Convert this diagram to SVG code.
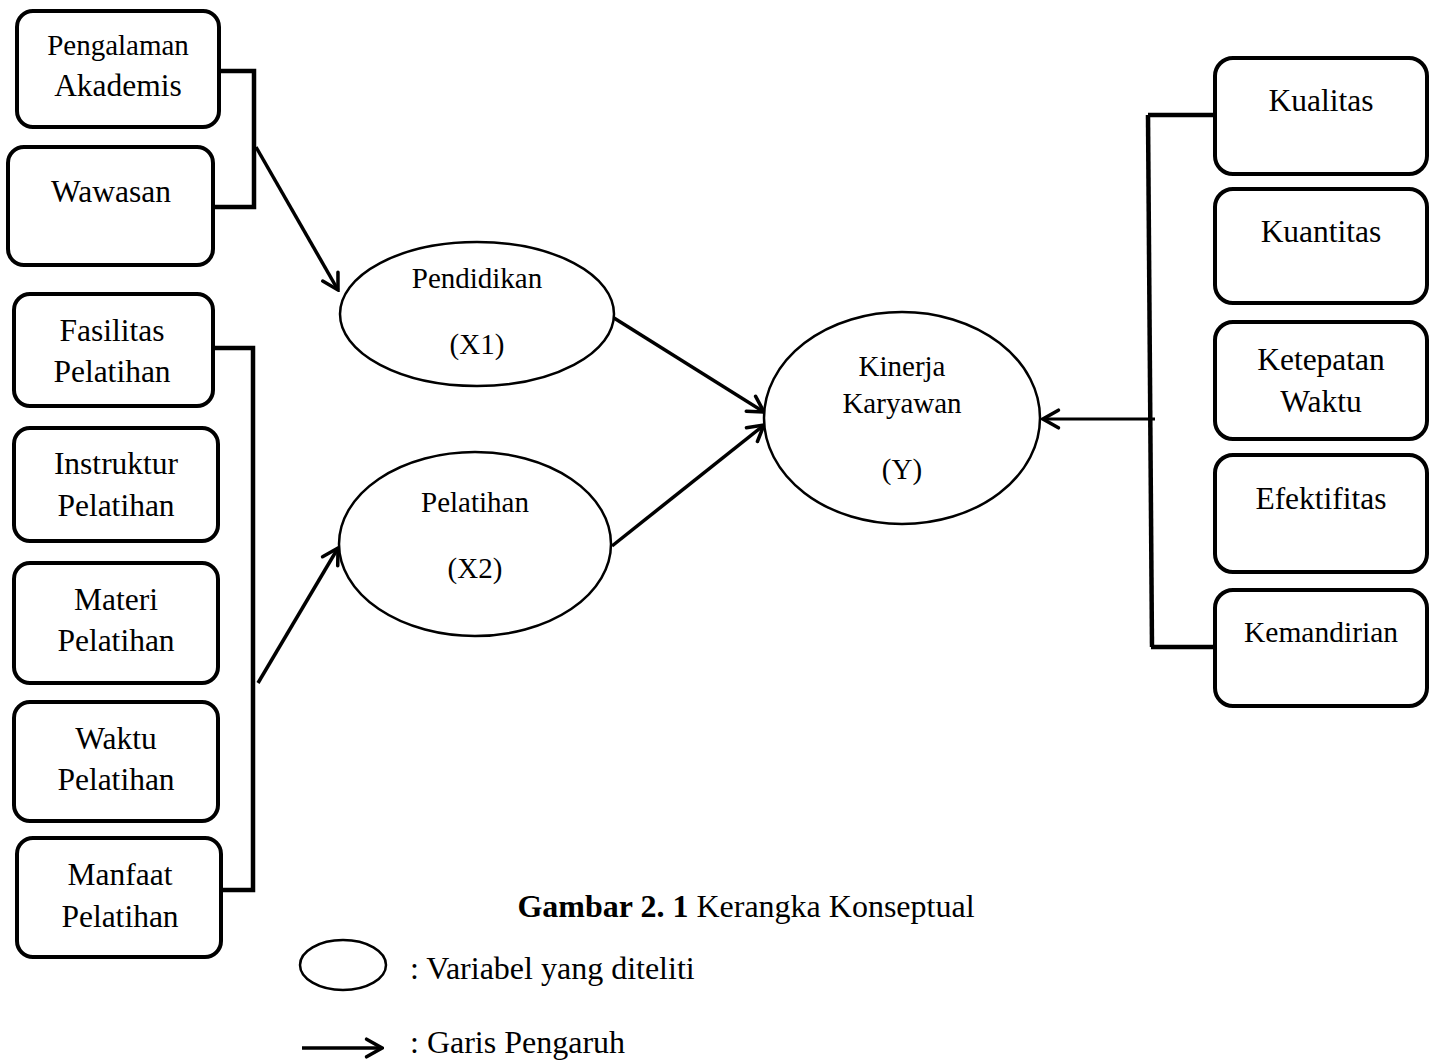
<svg xmlns="http://www.w3.org/2000/svg" width="1438" height="1062" viewBox="0 0 1438 1062">
<style>
.box{fill:#fff;stroke:#000;stroke-width:4}
.ell{fill:#fff;stroke:#000;stroke-width:2.5}
.t{font-family:"Liberation Serif","Times New Roman",serif;font-size:31.5px;fill:#000;text-anchor:middle}
.te{font-family:"Liberation Serif","Times New Roman",serif;font-size:29px;fill:#000;text-anchor:middle}
.tl{font-family:"Liberation Serif","Times New Roman",serif;font-size:32px;fill:#000;text-anchor:start}
.br{fill:none;stroke:#000;stroke-width:4.5}
.ar{fill:none;stroke:#000;stroke-width:3.5;marker-end:url(#ah)}
.ar2{fill:none;stroke:#000;stroke-width:3;marker-end:url(#ah)}
</style>
<defs>
<marker id="ah" viewBox="0 0 20 20" refX="18" refY="10" markerWidth="22" markerHeight="22" markerUnits="userSpaceOnUse" orient="auto">
<path d="M4,2 L18,10 L4,18" fill="none" stroke="#000" stroke-width="3.2" stroke-linecap="round" stroke-linejoin="miter"/>
</marker>
</defs>
<rect width="1438" height="1062" fill="#fff"/>
<g id="connectors">
<polyline class="br" points="219,71 254,71 254,207 213,207"/>
<polyline class="br" points="213,348 253,348 253,890 221,890"/>
<polyline class="br" points="1215,115 1148,115"/>
<line x1="1148" y1="115" x2="1152" y2="647" stroke="#000" stroke-width="4.5"/>
<polyline class="br" points="1151,647 1215,647"/>
<line class="ar" x1="256" y1="147" x2="338" y2="290"/>
<line class="ar" x1="258" y1="683" x2="338" y2="548"/>
<line class="ar" x1="614" y1="318" x2="764" y2="412"/>
<line class="ar" x1="612" y1="546" x2="764" y2="425"/>
<line class="ar2" x1="1155" y1="419" x2="1043" y2="419"/>
</g>
<g id="n-pengalaman"><rect class="box" x="17" y="11" width="202" height="116" rx="16"/><text class="t" x="118" y="55" font-size="29" style="font-size:29px">Pengalaman</text><text class="t" x="118" y="96">Akademis</text></g>
<g id="n-wawasan"><rect class="box" x="8" y="147" width="205" height="118" rx="16"/><text class="t" x="111" y="202">Wawasan</text></g>
<g id="n-fasilitas"><rect class="box" x="14" y="294" width="199" height="112" rx="16"/><text class="t" x="112" y="341">Fasilitas</text><text class="t" x="112" y="382">Pelatihan</text></g>
<g id="n-instruktur"><rect class="box" x="14" y="428" width="204" height="113" rx="16"/><text class="t" x="116" y="474">Instruktur</text><text class="t" x="116" y="516">Pelatihan</text></g>
<g id="n-materi"><rect class="box" x="14" y="563" width="204" height="120" rx="16"/><text class="t" x="116" y="610">Materi</text><text class="t" x="116" y="651">Pelatihan</text></g>
<g id="n-waktu"><rect class="box" x="14" y="702" width="204" height="119" rx="16"/><text class="t" x="116" y="749">Waktu</text><text class="t" x="116" y="790">Pelatihan</text></g>
<g id="n-manfaat"><rect class="box" x="17" y="838" width="204" height="119" rx="16"/><text class="t" x="120" y="885">Manfaat</text><text class="t" x="120" y="927">Pelatihan</text></g>
<g id="n-pendidikan"><ellipse class="ell" cx="477" cy="314" rx="137" ry="72"/><text class="te" x="477" y="288">Pendidikan</text><text class="te" x="477" y="354">(X1)</text></g>
<g id="n-pelatihan"><ellipse class="ell" cx="475" cy="544" rx="136" ry="92"/><text class="te" x="475" y="512">Pelatihan</text><text class="te" x="475" y="578">(X2)</text></g>
<g id="n-kinerja"><ellipse class="ell" cx="902" cy="418" rx="138" ry="106"/><text class="te" x="902" y="376">Kinerja</text><text class="te" x="902" y="413">Karyawan</text><text class="te" x="902" y="479">(Y)</text></g>
<g id="n-kualitas"><rect class="box" x="1215" y="58" width="212" height="116" rx="18"/><text class="t" x="1321" y="111">Kualitas</text></g>
<g id="n-kuantitas"><rect class="box" x="1215" y="189" width="212" height="114" rx="18"/><text class="t" x="1321" y="242">Kuantitas</text></g>
<g id="n-ketepatan"><rect class="box" x="1215" y="322" width="212" height="117" rx="18"/><text class="t" x="1321" y="370">Ketepatan</text><text class="t" x="1321" y="412">Waktu</text></g>
<g id="n-efektifitas"><rect class="box" x="1215" y="455" width="212" height="117" rx="18"/><text class="t" x="1321" y="509">Efektifitas</text></g>
<g id="n-kemandirian"><rect class="box" x="1215" y="590" width="212" height="116" rx="18"/><text class="t" x="1321" y="642" style="font-size:29.5px">Kemandirian</text></g>
<g id="caption"><text class="t" x="746" y="917" style="font-size:32px"><tspan font-weight="bold">Gambar 2. 1</tspan> Kerangka Konseptual</text></g>
<g id="legend">
<ellipse cx="343" cy="965" rx="43" ry="25" fill="#fff" stroke="#000" stroke-width="2.5"/>
<text class="tl" x="410" y="979">: Variabel yang diteliti</text>
<line x1="302" y1="1048" x2="382" y2="1048" stroke="#000" stroke-width="3.5" marker-end="url(#ah)"/>
<text class="tl" x="410" y="1053">: Garis Pengaruh</text>
</g>
</svg>
